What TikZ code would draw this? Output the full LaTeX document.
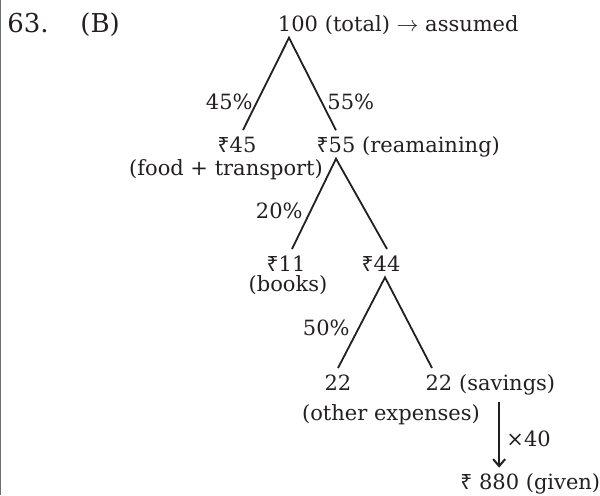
\documentclass[tikz,border=0pt]{standalone}
\usepackage{fontspec}
\setmainfont{DejaVu Serif}
\newfontfamily\rupeefont{Noto Sans}
\usepackage{tikz}
\usetikzlibrary{arrows.meta, positioning, calc}
\definecolor{inkblack}{HTML}{231F20}
\definecolor{framegray}{HTML}{6D6E71}
\newcommand{\rupee}{{\rupeefont ₹}}

\begin{document}
\begin{tikzpicture}[
    x=0.5pt, y=-0.5pt,
    font=\fontsize{10.5}{12.6}\selectfont,
    value/.style={anchor=base, inner sep=3pt, text=inkblack},
    note/.style={anchor=base west, inner sep=0pt, text=inkblack},
    head/.style={note, font=\fontsize{13}{15.6}\selectfont},
    branch/.style={draw=inkblack, line width=0.9pt},
    arrow/.style={-{Straight Barb[length=3.5pt, width=6pt]}, draw=inkblack, line width=1pt}
]
\useasboundingbox (0,0) rectangle (600,495);
\draw[framegray, line width=0.5pt] (0.6,0) -- (0.6,495);

\node[head] (qno) at (7,32) {63.};
\node[head] (qans) at (80,32) {(B)};

% tree of amounts
\node[value] (n100) at (298,31) {100};
\node[note] (total) at (n100.base east) {(total) $\rightarrow$ assumed};

\node[value] (r45) at (237,152) {\rupee45};
\node[value] (r55) at (336,152) {\rupee55};
\node[note] (rest) at (r55.base east) {(reamaining)};
\node[note, anchor=base] (food) at (226,175) {(food + transport)};

\node[value] (r11) at (286,271) {\rupee11};
\node[value] (r44) at (381,271) {\rupee44};
\node[note, anchor=base] (books) at (288,291) {(books)};

\node[value] (o22) at (338,390) {22};
\node[value] (s22) at (439,390) {22};
\node[note] (save) at (s22.base east) {(savings)};
\node[note, anchor=base] (other) at (391,420) {(other expenses)};

\node[note] (r880) at (460,489) {\rupee\ 880 (given)};

% shares
\node[note, anchor=base east] (p45) at (253,109) {45\%};
\node[note] (p55) at (327,109) {55\%};
\node[note, anchor=base east] (p20) at (303,218) {20\%};
\node[note, anchor=base east] (p50) at (350,335) {50\%};
\node[note] (x40) at (506,446) {×40};

\draw[branch] ([xshift=3pt]r45.north) -- ([xshift=-4.5pt]n100.south) -- (r55.north);
\draw[branch] ([xshift=3pt]r11.north) -- (r55.south) -- ([xshift=3pt]r44.north);
\draw[branch] (o22.north) -- ([xshift=2pt]r44.south) -- ([xshift=-3.5pt]s22.north);

\draw[arrow, shorten <=3.5pt, shorten >=2.5pt] ([xshift=-4pt]save.south) -- ([xshift=-4pt]save.south |- r880.north);

\end{tikzpicture}
\end{document}
